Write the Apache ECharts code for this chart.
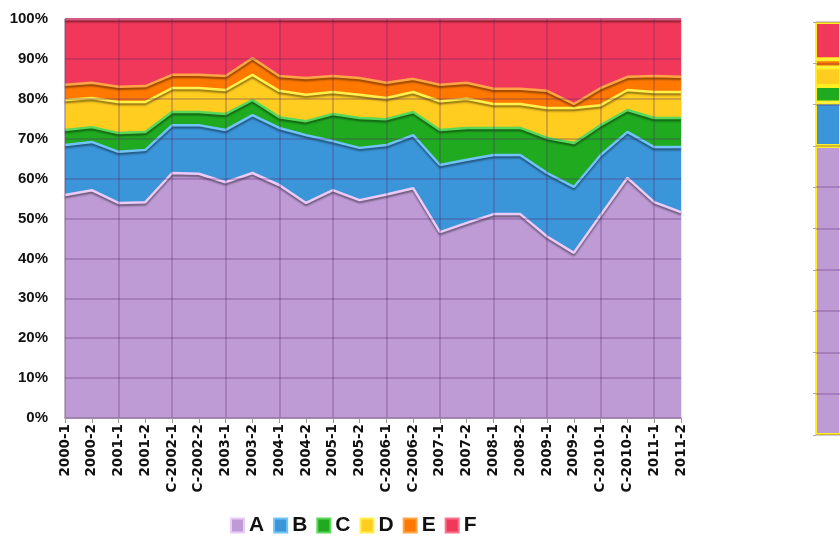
<!DOCTYPE html>
<html>
<head>
<meta charset="utf-8">
<script src="https://cdn.jsdelivr.net/npm/echarts@6/dist/echarts.min.js"></script>
<style>
  html, body { margin: 0; padding: 0; background: #fff; }
  #chart { width: 840px; height: 536px; }
</style>
</head>
<body>
<div id="chart"></div>
<script>
// categories
const periods = ["2000-1", "2000-2", "2001-1", "2001-2", "C-2002-1", "C-2002-2", "2003-1", "2003-2",
  "2004-1", "2004-2", "2005-1", "2005-2", "C-2006-1", "C-2006-2", "2007-1", "2007-2",
  "2008-1", "2008-2", "2009-1", "2009-2", "C-2010-1", "C-2010-2", "2011-1", "2011-2"];

// share of each group, %
const seriesA = [55.9, 57.1, 53.9, 54.1, 61.4, 61.2, 59.1, 61.4, 58.4, 53.9, 57.1, 54.6, 56.0, 57.6, 46.6, 48.9, 51.1, 51.1, 45.5, 41.4, 50.9, 60.2, 54.1, 51.6];
const seriesB = [12.5, 12.1, 12.8, 13.1, 12.0, 12.2, 13.1, 14.5, 14.3, 17.0, 12.3, 13.1, 12.4, 13.3, 16.8, 15.8, 14.8, 14.8, 15.9, 16.5, 15.0, 11.5, 13.8, 16.3];
const seriesC = [3.8, 3.7, 4.7, 4.5, 3.3, 3.3, 4.0, 3.8, 2.7, 3.5, 6.8, 7.5, 6.5, 5.8, 8.8, 8.0, 6.8, 6.8, 8.8, 11.0, 7.5, 5.5, 7.3, 7.3];
const seriesD = [7.5, 7.3, 7.8, 7.5, 6.0, 6.0, 6.0, 6.3, 6.6, 6.6, 5.5, 5.8, 5.3, 5.0, 7.2, 7.3, 6.0, 6.0, 7.5, 8.8, 5.0, 5.0, 6.5, 6.5];
const seriesE = [3.8, 3.8, 3.8, 4.0, 3.3, 3.3, 3.5, 4.2, 3.7, 4.2, 4.0, 4.2, 3.8, 3.3, 4.1, 4.0, 3.8, 3.8, 4.3, 1.0, 4.3, 3.3, 4.0, 3.8];
const seriesF = [16.5, 16.0, 17.0, 16.8, 14.0, 14.0, 14.3, 9.8, 14.3, 14.8, 14.3, 14.8, 16.0, 15.0, 16.5, 16.0, 17.5, 17.5, 18.0, 21.3, 17.3, 14.5, 14.3, 14.5];

// the cut-off bar on the right
const sideValues = [70, 10.5, 4, 4.5, 2, 9];

const names = ["A", "B", "C", "D", "E", "F"];
const areaData = [seriesA, seriesB, seriesC, seriesD, seriesE, seriesF];
const fills = ["#BE9BD5", "#3A95D9", "#20AA20", "#FFCC20", "#FF7800", "#F2385A"];
const edges = ["#EBCBF8", "#70C4F7", "#5AD85A", "#FFF04C", "#FFA548", "#F8708E"];

const gridLine = { color: "rgba(90, 40, 110, 0.35)", width: 1.5 };

const series = [];
names.forEach((n, i) => {
  series.push({
    name: n,
    type: "line",
    stack: "total",
    symbol: "none",
    data: areaData[i],
    lineStyle: {
      color: edges[i],
      width: 2.5,
      shadowColor: "rgba(0, 0, 0, 0.45)",
      shadowBlur: 2,
      shadowOffsetY: 2
    },
    itemStyle: { color: fills[i], borderColor: edges[i], borderWidth: 2 },
    areaStyle: { color: fills[i], opacity: 1 }
  });
});
names.forEach((n, i) => {
  series.push({
    name: n,
    type: "bar",
    stack: "side",
    xAxisIndex: 1,
    yAxisIndex: 1,
    barWidth: 54,
    data: [sideValues[i]],
    itemStyle: { color: fills[i], borderColor: "#FFEE22", borderWidth: 2 }
  });
});

const chart = echarts.init(document.getElementById("chart"));
chart.setOption({
  animation: false,
  legend: {
    data: names,
    left: 225,
    top: 510,
    itemWidth: 13,
    itemHeight: 14,
    itemGap: 9,
    icon: "rect",
    textStyle: {
      fontFamily: "Liberation Sans Narrow, Liberation Sans",
      fontWeight: "bold",
      fontSize: 21,
      color: "#111"
    }
  },
  grid: [
    { left: 65, right: 159, top: 19, bottom: 118, show: true, borderColor: "#cccccc", borderWidth: 1 },
    { left: 816, top: 22, width: 60, bottom: 101 }
  ],
  xAxis: [
    {
      type: "category",
      data: periods,
      boundaryGap: false,
      z: 5,
      axisLine: { lineStyle: { color: "#9a7fa8", width: 1.5 } },
      axisTick: { show: true, length: 5, lineStyle: { color: "#999" } },
      axisLabel: {
        interval: 0,
        rotate: 90,
        margin: 6,
        fontFamily: "DejaVu Sans",
        fontWeight: "bold",
        fontSize: 13.5,
        color: "#111"
      },
      splitLine: {
        show: true,
        interval: (idx) => idx % 2 === 0,
        lineStyle: gridLine
      }
    },
    {
      type: "category",
      gridIndex: 1,
      data: [""],
      show: false
    }
  ],
  yAxis: [
    {
      type: "value",
      min: 0,
      max: 100,
      interval: 10,
      z: 5,
      axisLine: { show: false },
      axisTick: { show: false },
      axisLabel: {
        formatter: "{value}%",
        margin: 17,
        fontFamily: "Liberation Sans",
        fontWeight: "bold",
        fontSize: 15,
        color: "#111"
      },
      splitLine: { show: true, lineStyle: gridLine }
    },
    {
      type: "value",
      gridIndex: 1,
      min: 0,
      max: 100,
      interval: 10,
      z: 5,
      axisLine: { show: false },
      axisTick: { show: true, length: 3, lineStyle: { color: "#aaa" } },
      axisLabel: { show: false },
      splitLine: { show: true, lineStyle: gridLine }
    }
  ],
  series: series
});
</script>
</body>
</html>
